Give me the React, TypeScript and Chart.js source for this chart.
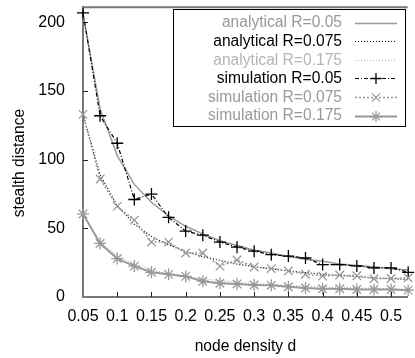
import React, { useEffect, useRef } from "react";
import { Chart, registerables } from "chart.js";

Chart.register(...registerables);

const densities = [0.05, 0.075, 0.1, 0.125, 0.15, 0.175, 0.2, 0.225, 0.25, 0.275, 0.3, 0.325, 0.35, 0.375, 0.4, 0.425, 0.45, 0.475, 0.5, 0.525];
const analyticalR005 = [206, 137, 103, 82, 69, 59, 51.5, 46, 41, 37.5, 34, 32, 29.5, 27.5, 26, 24, 23, 22, 20.5, 19.6];
const analyticalR0075 = [133, 89, 66.5, 53, 44, 38, 33, 29.5, 26.6, 24, 22, 20.5, 19, 17.7, 16.6, 15.6, 14.8, 14, 13.3, 12.7];
const analyticalR0175 = [60, 40, 30, 24, 20, 17, 15, 13.3, 12, 11, 10, 9.2, 8.6, 8, 7.5, 7, 6.7, 6.3, 6, 5.7];
const simulationR005 = [207, 132, 112, 71, 75, 58, 48, 45, 40, 36.3, 33.4, 30.8, 29.8, 28.4, 23.6, 23.6, 22.6, 21.2, 21.2, 18];
const simulationR0075 = [133, 86, 66, 56, 40, 40, 32, 32, 22.5, 27, 21.9, 20.7, 19, 16.6, 15.2, 16, 15.5, 13.3, 13.5, 14];
const simulationR0175 = [60.5, 39, 28, 22.5, 18, 16.5, 15, 11.5, 10, 9.5, 8.7, 8.5, 7.5, 6.5, 6, 6, 5.5, 5.5, 5.5, 5];

const xTickValues = [0.05, 0.1, 0.15, 0.2, 0.25, 0.3, 0.35, 0.4, 0.45, 0.5];
const xTickLabels = ["0.05", "0.1", "0.15", "0.2", "0.25", "0.3", "0.35", "0.4", "0.45", "0.5"];
const yTickValues = [0, 50, 100, 150, 200];
const yTickLabels = ["0", "50", "100", "150", "200"];

const seriesLabels = [
  "analytical R=0.05",
  "analytical R=0.075",
  "analytical R=0.175",
  "simulation R=0.05",
  "simulation R=0.075",
  "simulation R=0.175",
];

const FONT = '"Liberation Sans", Arial, sans-serif';
const GRAY = "#999999";
const LIGHT = "#b4b4b4";

const toPoints = (ys: number[]) => densities.map((x, i) => ({ x, y: ys[i] }));

type Style = { color: string; dash: number[]; width: number; marker: string | null; textColor: string };
const styles: Style[] = [
  { color: GRAY, dash: [], width: 1.5, marker: null, textColor: GRAY },
  { color: "#000000", dash: [1, 2], width: 1.2, marker: null, textColor: "#000000" },
  { color: LIGHT, dash: [1, 2], width: 1.2, marker: null, textColor: LIGHT },
  { color: "#000000", dash: [4, 2, 1, 2], width: 1.2, marker: "cross", textColor: "#000000" },
  { color: GRAY, dash: [2, 2], width: 1.5, marker: "crossRot", textColor: GRAY },
  { color: GRAY, dash: [], width: 2, marker: "star", textColor: GRAY },
];

function drawMarker(ctx: CanvasRenderingContext2D, kind: string, x: number, y: number, r: number) {
  ctx.beginPath();
  const d = r * Math.SQRT1_2;
  if (kind === "cross" || kind === "star") {
    ctx.moveTo(x - r, y); ctx.lineTo(x + r, y);
    ctx.moveTo(x, y - r); ctx.lineTo(x, y + r);
  }
  if (kind === "crossRot" || kind === "star") {
    ctx.moveTo(x - d, y - d); ctx.lineTo(x + d, y + d);
    ctx.moveTo(x - d, y + d); ctx.lineTo(x + d, y - d);
  }
  ctx.stroke();
}

const decorPlugin = {
  id: "decor",
  afterDraw(chart: any) {
    const ctx: CanvasRenderingContext2D = chart.ctx;
    const area = chart.chartArea;
    const xs = chart.scales.x;
    const ys = chart.scales.y;
    ctx.save();
    // top frame line
    ctx.strokeStyle = "#777777";
    ctx.lineWidth = 2;
    ctx.setLineDash([]);
    ctx.beginPath();
    ctx.moveTo(area.left - 1, area.top);
    ctx.lineTo(area.right, area.top);
    ctx.stroke();
    // inward tick marks
    ctx.strokeStyle = "#222222";
    ctx.lineWidth = 1;
    ctx.beginPath();
    xTickValues.forEach((v, i) => {
      if (i === 0) return;
      const px = Math.round(xs.getPixelForValue(v)) + 0.5;
      ctx.moveTo(px, area.bottom);
      ctx.lineTo(px, area.bottom - 5);
    });
    yTickValues.forEach((v, i) => {
      if (i === 0) return;
      const py = Math.round(ys.getPixelForValue(v)) + 0.5;
      ctx.moveTo(area.left, py);
      ctx.lineTo(area.left + 5, py);
    });
    ctx.stroke();

    // axis titles
    ctx.fillStyle = "#000000";
    ctx.font = `15.6px ${FONT}`;
    ctx.textAlign = "center";
    ctx.textBaseline = "middle";
    ctx.fillText("node density d", (area.left + area.right) / 2, 347);
    ctx.save();
    ctx.translate(20, 163);
    ctx.rotate(-Math.PI / 2);
    ctx.fillText("stealth distance", 0, 0);
    ctx.restore();

    // legend
    const bl = 173.5, bt = 9.5, br = 405.5, bb = 126.5;
    ctx.fillStyle = "#ffffff";
    ctx.fillRect(bl, bt, br - bl, bb - bt);
    ctx.strokeStyle = "#000000";
    ctx.lineWidth = 1;
    ctx.strokeRect(bl, bt, br - bl, bb - bt);
    ctx.font = `15.6px ${FONT}`;
    ctx.textAlign = "right";
    ctx.textBaseline = "middle";
    seriesLabels.forEach((label, i) => {
      const st = styles[i];
      const y = 22.5 + i * 18.6;
      ctx.fillStyle = st.textColor;
      ctx.fillText(label, 342, y + 0.5);
      ctx.strokeStyle = st.color;
      ctx.lineWidth = st.width;
      ctx.setLineDash(st.dash);
      ctx.beginPath();
      ctx.moveTo(355, Math.round(y) + 0.5);
      ctx.lineTo(397, Math.round(y) + 0.5);
      ctx.stroke();
      ctx.setLineDash([]);
      if (st.marker) {
        ctx.lineWidth = 1.3;
        drawMarker(ctx, st.marker, 376, Math.round(y) + 0.5, 5.5);
      }
    });
    ctx.restore();
  },
};

export default function App() {
  const ref = useRef<HTMLCanvasElement | null>(null);
  useEffect(() => {
    document.body.style.margin = "0";
    const canvas = ref.current;
    if (!canvas) return;
    const datasets = seriesLabels.map((label, i) => {
      const st = styles[i];
      const data = [analyticalR005, analyticalR0075, analyticalR0175, simulationR005, simulationR0075, simulationR0175][i];
      return {
        label,
        data: toPoints(data),
        borderColor: st.color,
        backgroundColor: st.color,
        borderWidth: st.width,
        borderDash: st.dash,
        pointStyle: st.marker || "circle",
        pointRadius: st.marker ? 6 : 0,
        pointBorderWidth: 1.3,
        pointBorderColor: st.color,
        tension: 0,
        clip: false as any,
        order: 6 - i,
      };
    });
    const chart = new Chart(canvas, {
      type: "line",
      data: { datasets },
      options: {
        animation: false,
        responsive: false,
        devicePixelRatio: 1,
        layout: { padding: { top: 5, left: 0, right: 0, bottom: 0 } },
        plugins: { legend: { display: false }, tooltip: { enabled: false } },
        scales: {
          x: {
            type: "linear",
            min: 0.05,
            max: 0.5243,
            grid: { display: false },
            border: { display: true, color: "#777777", width: 2 },
            afterFit: (s: any) => { s.height = 61; s.paddingLeft = 0; s.paddingRight = 0; s.paddingTop = 0; s.paddingBottom = 0; },
            afterBuildTicks: (s: any) => { s.ticks = xTickValues.map((v) => ({ value: v })); },
            ticks: {
              padding: 2,
              maxRotation: 0,
              autoSkip: false,
              color: "#000000",
              font: { family: FONT, size: 16 },
              callback: (_v: any, i: number) => xTickLabels[i],
            },
          },
          y: {
            type: "linear",
            min: 0,
            max: 211,
            grid: { display: false },
            border: { display: true, color: "#777777", width: 2 },
            afterFit: (s: any) => { s.width = 83; s.paddingTop = 0; s.paddingBottom = 0; s.paddingLeft = 0; s.paddingRight = 0; },
            afterBuildTicks: (s: any) => { s.ticks = yTickValues.map((v) => ({ value: v })); },
            ticks: {
              padding: 10,
              autoSkip: false,
              color: "#000000",
              font: { family: FONT, size: 16 },
              callback: (_v: any, i: number) => yTickLabels[i],
            },
          },
        },
      },
      plugins: [decorPlugin],
    });
    return () => chart.destroy();
  }, []);
  return (
    <div style={{ width: 415, height: 358, position: "relative", background: "#fff" }}>
      <canvas ref={ref} width={415} height={358} style={{ display: "block", width: 415, height: 358 }} />
    </div>
  );
}
